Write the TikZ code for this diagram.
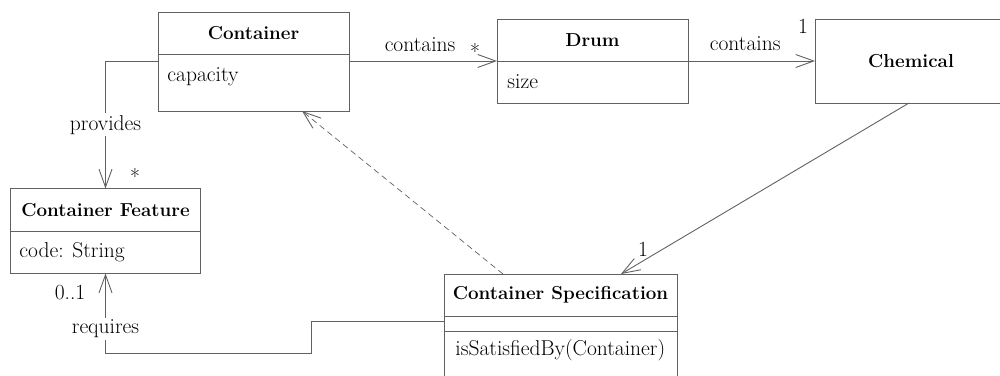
\documentclass[tikz,border=0pt]{standalone}
\usetikzlibrary{positioning,arrows.meta}
\definecolor{umlline}{gray}{0.38}

\begin{document}
\begin{tikzpicture}[x=1pt,y=-1pt,line width=0.9pt,
        every node/.append style={font=\fontsize{21.5}{25}\selectfont},
        box/.style={draw=umlline,inner sep=0pt,outer sep=0pt},
        title/.style={box,font=\fontsize{18.8}{22}\selectfont\bfseries},
        attr/.style={anchor=west,inner sep=0pt},
        mult/.style={inner sep=1pt},
        lbl/.style={fill=white,inner sep=2pt},
        assoc/.style={draw=umlline,-{Straight Barb[length=18pt,width=13pt,line width=0.9pt]}},
        dep/.style={assoc,dash pattern=on 6pt off 4pt,line width=0.7pt}]
        \useasboundingbox (0,0) rectangle (1000,375);
        \node[title,minimum width=191,minimum height=42] (contt) at (253.5,33) {Container};
        \node[box,minimum width=191,minimum height=57,below=0pt of contt] (contb) {};
        \node[attr] (capacity) at (167,77) {capacity};
        \node[title,minimum width=191,minimum height=42] (drumt) at (592.5,40) {Drum};
        \node[box,minimum width=191,minimum height=42,below=0pt of drumt] (drumb) {};
        \node[attr] (size) at (507,82) {size};
        \node[title,minimum width=192,minimum height=84] (chem) at (911,61) {Chemical};
        \node[title,minimum width=190,minimum height=43] (cft) at (105.5,210) {Container Feature};
        \node[box,minimum width=190,minimum height=42,below=0pt of cft] (cfb) {};
        \node[attr] (code) at (19,252) {code: String};
        \node[title,minimum width=233,minimum height=42] (spect) at (560.5,295) {Container Specification};
        \node[box,minimum width=233,minimum height=15,below=0pt of spect] (specm) {};
        \node[box,minimum width=233,minimum height=64,below=0pt of specm] (specb) {};
        \node[attr] (satisfied) at (455,350) {isSatisfiedBy(Container)};
        \draw[assoc] (contb.west |- drumt.south) -| node[lbl,pos=0.75] (provides) {provides} (cft.north);
        \node[mult] (provmult) at (135,176) {*};
        \draw[assoc] (contb.east |- drumt.south) -- node[above=6pt,pos=0.48] (contains1) {contains} (drumt.south west);
        \node[mult] (contmult) at (475,51) {*};
        \draw[assoc] (drumt.south east) -- node[above=7pt,pos=0.45] (contains2) {contains} (chem.west);
        \node[mult] (chemmult) at (803,26) {1};
        \draw[dep] ([xshift=-57.5]spect.north) -- ([xshift=48.5]contb.south);
        \draw[assoc] ([xshift=-2]chem.south) -- ([xshift=60.5]spect.north);
        \node[mult] (specmult) at (643,249) {1};
        \draw[assoc] ([yshift=2.5]specm.west) -| ++(-133,32) -| node[lbl,pos=0.65] (requires) {requires} (cfb.south);
        \node[mult] (reqmult) at (70,293) {0..1};
    \end{tikzpicture}
\end{document}
